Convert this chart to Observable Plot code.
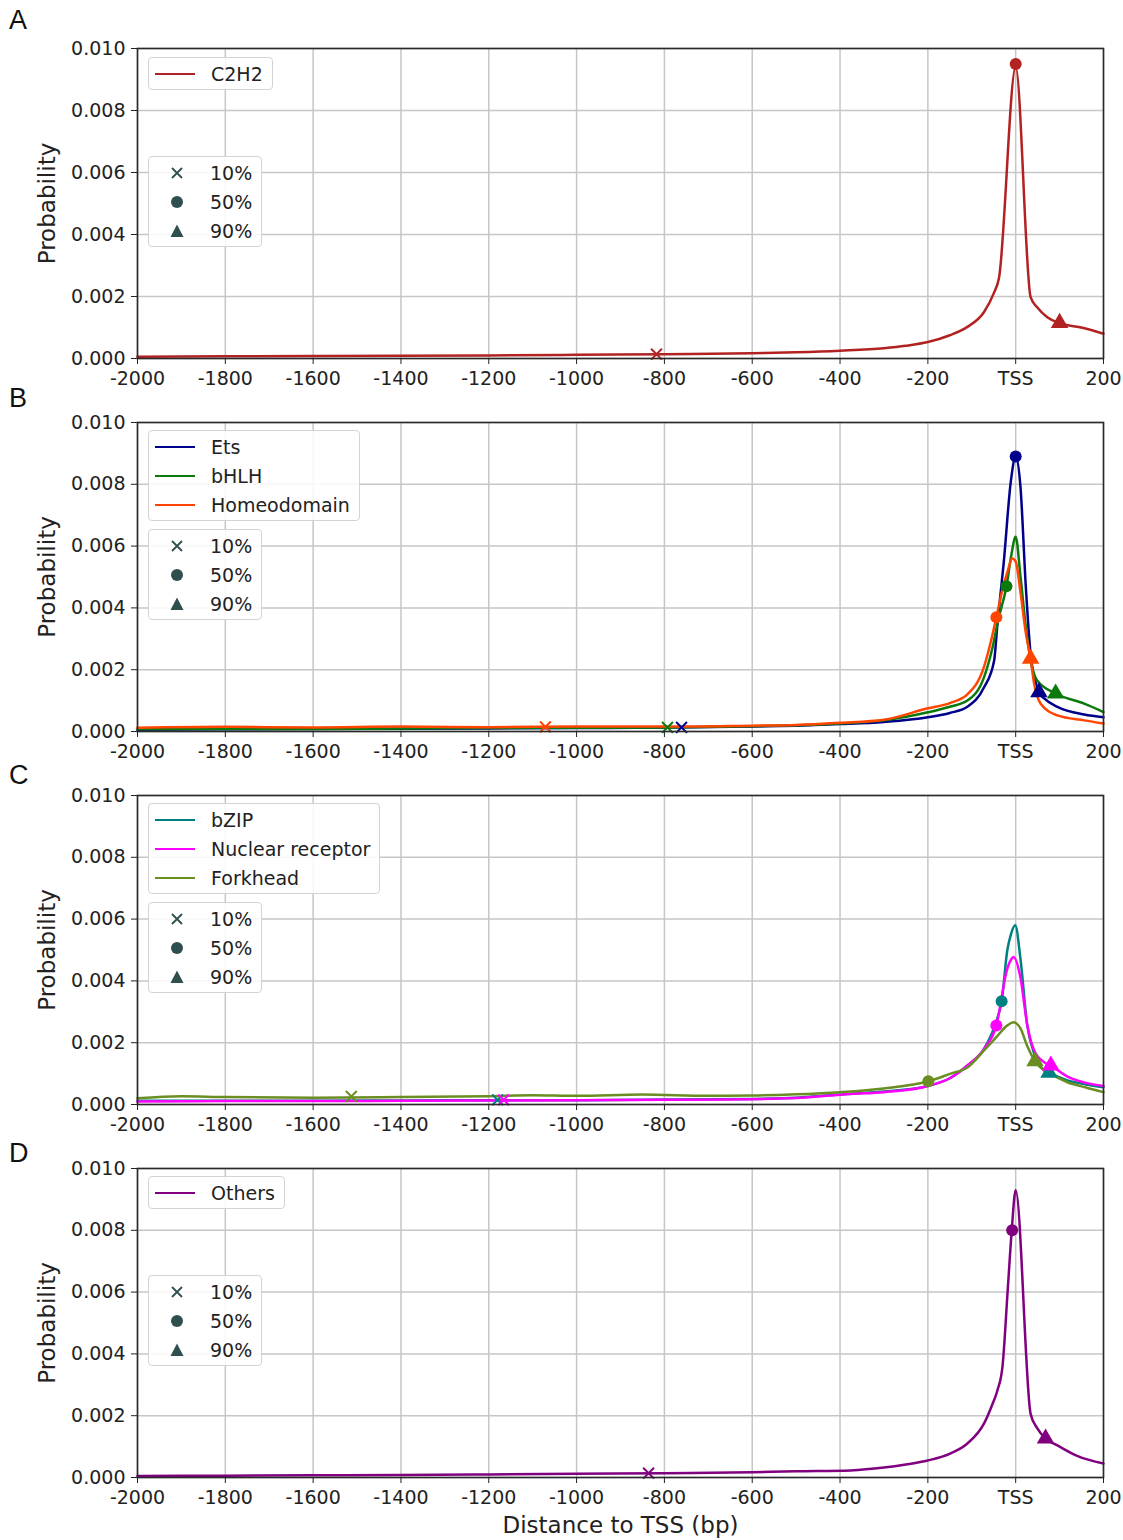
<!DOCTYPE html>
<html>
<head>
<meta charset="utf-8">
<script src="https://cdn.jsdelivr.net/npm/d3@7"></script>
<script src="https://cdn.jsdelivr.net/npm/@observablehq/plot@0.6"></script>
<style>
  body { margin: 0; background: #fff; font-family: "DejaVu Sans", sans-serif; }
  #root { position: relative; width: 1123px; height: 1540px; overflow: hidden; background: #fff; }
  .panel { position: absolute; left: 0; width: 1123px; }
  .panel svg { display: block; }
  .letter { position: absolute; left: 9px; height: 30px; line-height: 30px; font-family: "Liberation Sans", Arial, sans-serif; font-size: 27px; color: #111; }
  .legend { position: absolute; left: 148px; box-sizing: border-box; border: 1px solid #d4d4d4; border-radius: 4px; background: rgba(255,255,255,0.85); padding: 1px 9px 1px 0; font-family: "DejaVu Sans", sans-serif; font-size: 19px; color: #222; }
  .row { display: flex; align-items: center; height: 29px; white-space: nowrap; }
  .sw { margin-left: 6px; width: 40px; height: 0; border-top: 2.6px solid; margin-right: 16px; }
  .mk { margin-left: 20px; margin-right: 25px; width: 16px; height: 16px; display: block; }
</style>
</head>
<body>
<div id="root"></div>
<script>
// ---------- axes ----------
const xTicks = [-2000, -1800, -1600, -1400, -1200, -1000, -800, -600, -400, -200, 0, 200];
const yTicks = [0, 0.002, 0.004, 0.006, 0.008, 0.010];
const pctLabels = ["10%", "50%", "90%"];

// ---------- Panel A : C2H2 ----------
const c2h2X = [-2000,-1800,-1600,-1400,-1200,-1000,-800,-600,-500,-400,-300,-250,-200,-150,-110,-72,-50,-38,0,34,49,72,100,152,200];
const c2h2Y = [0.00006,0.00007,0.00008,0.00009,0.0001,0.00012,0.00014,0.00017,0.0002,0.00025,0.00033,0.00041,0.00053,0.00075,0.00102,0.0015,0.0021,0.0026,0.0094,0.00198,0.00165,0.00133,0.00114,0.00099,0.0008];
const c2h2MarkX = [-818, 0, 100];
const c2h2MarkY = [0.00014, 0.0095, 0.00115];

// ---------- Panel B : Ets, bHLH, Homeodomain ----------
const etsX = [-2000,-1800,-1600,-1400,-1200,-1000,-800,-600,-500,-400,-300,-200,-150,-110,-72,-49,-42,-27,-11,0,11,23,34,49,53,65,95,156,200];
const etsY = [0.00006,0.00007,0.00008,0.00009,0.0001,0.00011,0.00013,0.00016,0.00019,0.00024,0.00031,0.00046,0.0006,0.0008,0.00143,0.0023,0.0034,0.0055,0.0081,0.0089,0.0079,0.0047,0.0025,0.00143,0.00127,0.00107,0.0008,0.00055,0.00046];
const etsMarkX = [-761, 0, 53];
const etsMarkY = [0.00013, 0.0089, 0.00127];

const bhlhX = [-2000,-1800,-1600,-1400,-1200,-1000,-800,-600,-500,-400,-300,-200,-150,-110,-72,-53,-40,-21,-10,0,11,23,34,49,91,156,200];
const bhlhY = [0.00007,0.00008,0.00008,0.0001,0.00011,0.00012,0.00013,0.00017,0.0002,0.00026,0.00036,0.00062,0.0008,0.001,0.00176,0.0027,0.0036,0.0047,0.0057,0.0063,0.005,0.0034,0.0023,0.00165,0.00123,0.0009,0.00063];
const bhlhMarkX = [-793, -21, 91];
const bhlhMarkY = [0.00013, 0.0047, 0.00123];

const homeoX = [-2000,-1800,-1600,-1400,-1200,-1000,-800,-600,-500,-400,-300,-200,-150,-110,-72,-55,-44,-30,-18,-8,0,11,23,34,42,57,95,156,200];
const homeoY = [0.00012,0.00015,0.00013,0.00016,0.00014,0.00016,0.00016,0.00019,0.00021,0.00028,0.00038,0.00075,0.00092,0.0012,0.0021,0.003,0.0037,0.0046,0.0052,0.0056,0.0055,0.0045,0.0032,0.00236,0.00155,0.0009,0.00052,0.00036,0.00026];
const homeoMarkX = [-1071, -44, 34];
const homeoMarkY = [0.00015, 0.0037, 0.00236];

// ---------- Panel C : bZIP, Nuclear receptor, Forkhead ----------
const bzipX = [-2000,-1800,-1600,-1400,-1200,-1000,-800,-600,-500,-376,-300,-200,-150,-110,-72,-44,-32,-19,-11,-1,11,26,42,65,76,118,160,200];
const bzipY = [0.00012,0.00012,0.00012,0.00013,0.00014,0.00014,0.00016,0.00018,0.00022,0.00035,0.00042,0.0006,0.00085,0.00126,0.0018,0.0027,0.00334,0.005,0.0055,0.0058,0.0047,0.0026,0.00165,0.0011,0.00103,0.00078,0.00065,0.00056];
const bzipMarkX = [-1180, -32, 76];
const bzipMarkY = [0.00015, 0.00334, 0.00103];

const nrX = [-2000,-1800,-1600,-1400,-1200,-1000,-800,-600,-500,-376,-300,-200,-150,-110,-72,-44,-19,-10,-5,11,26,42,65,80,118,160,200];
const nrY = [0.0001,0.00011,0.00011,0.00012,0.00013,0.00014,0.00015,0.00017,0.00021,0.00034,0.0004,0.0006,0.00085,0.00126,0.0018,0.00256,0.0044,0.0047,0.00477,0.0041,0.0026,0.00175,0.00137,0.00126,0.0009,0.0007,0.0006];
const nrMarkX = [-1166, -44, 80];
const nrMarkY = [0.00015, 0.00256, 0.00126];

const forkX = [-2000,-1900,-1800,-1600,-1400,-1200,-1100,-1000,-850,-700,-600,-500,-400,-300,-199,-148,-110,-72,-44,-19,-5,11,26,44,80,118,160,200];
const forkY = [0.0002,0.00027,0.00024,0.00022,0.00024,0.00027,0.0003,0.00028,0.00032,0.00028,0.00029,0.00033,0.0004,0.00052,0.00075,0.001,0.0012,0.00175,0.00218,0.00256,0.00266,0.00246,0.0019,0.0014,0.001,0.00072,0.00055,0.0004];
const forkMarkX = [-1513, -199, 44];
const forkMarkY = [0.00026, 0.00075, 0.0014];

// ---------- Panel D : Others ----------
const othersX = [-2000,-1800,-1600,-1400,-1200,-1000,-800,-600,-500,-376,-300,-250,-200,-148,-110,-72,-55,-42,-30,-18,-9,0,34,49,68,95,140,200];
const othersY = [0.00005,0.00006,0.00007,0.00008,0.0001,0.00012,0.00014,0.00017,0.0002,0.00023,0.00032,0.00042,0.00055,0.00078,0.0011,0.00175,0.0023,0.0028,0.0036,0.0061,0.0080,0.0093,0.00206,0.0016,0.00126,0.00104,0.0007,0.00045];
const othersMarkX = [-836, -8, 68];
const othersMarkY = [0.00014, 0.0080, 0.00126];

// ---------- colours ----------
const cC2H2 = "#b22222", cEts = "#00008b", cBHLH = "#0b7a0b", cHomeo = "#ff4500";
const cBZIP = "#008080", cNR = "#ff00ff", cFork = "#6b8e23", cOthers = "#800080";
const markerInk = "#2f4f4f";

const zip = (xs, ys) => xs.map((x, i) => ({x, y: ys[i]}));

const panels = [
  {letter: "A", top: 0, height: 390, mt: 48, mb: 32, letterY: 20, lgShift: 1, series: [
    {name: "C2H2", color: cC2H2, x: c2h2X, y: c2h2Y, mx: c2h2MarkX, my: c2h2MarkY}]},
  {letter: "B", top: 390, height: 373, mt: 32, mb: 32, letterY: 398, lgShift: 0, series: [
    {name: "Ets", color: cEts, x: etsX, y: etsY, mx: etsMarkX, my: etsMarkY},
    {name: "bHLH", color: cBHLH, x: bhlhX, y: bhlhY, mx: bhlhMarkX, my: bhlhMarkY},
    {name: "Homeodomain", color: cHomeo, x: homeoX, y: homeoY, mx: homeoMarkX, my: homeoMarkY}]},
  {letter: "C", top: 763, height: 373, mt: 32, mb: 32, letterY: 775, lgShift: 0, series: [
    {name: "bZIP", color: cBZIP, x: bzipX, y: bzipY, mx: bzipMarkX, my: bzipMarkY},
    {name: "Nuclear receptor", color: cNR, x: nrX, y: nrY, mx: nrMarkX, my: nrMarkY},
    {name: "Forkhead", color: cFork, x: forkX, y: forkY, mx: forkMarkX, my: forkMarkY}]},
  {letter: "D", top: 1136, height: 404, mt: 32, mb: 63, letterY: 1153, lgShift: 0, xLabel: "Distance to TSS (bp)", series: [
    {name: "Others", color: cOthers, x: othersX, y: othersY, mx: othersMarkX, my: othersMarkY}]}
];

const root = document.getElementById("root");
const gridStyle = {stroke: "#c6c6c6", strokeOpacity: 1, strokeWidth: 1.5};
const symbols = ["times", "circle", "triangle"];

function markerSvg(kind) {
  if (kind === "times") return `<svg class="mk" viewBox="0 0 16 16"><path d="M3 3L13 13M13 3L3 13" stroke="${markerInk}" stroke-width="1.8"/></svg>`;
  if (kind === "circle") return `<svg class="mk" viewBox="0 0 16 16"><circle cx="8" cy="8" r="6" fill="${markerInk}"/></svg>`;
  return `<svg class="mk" viewBox="0 0 16 16"><path d="M8 1.5L14.5 14H1.5Z" fill="${markerInk}"/></svg>`;
}

for (const p of panels) {
  const div = document.createElement("div");
  div.className = "panel";
  div.style.top = p.top + "px";
  div.style.height = p.height + "px";

  const marks = [
    Plot.gridX(xTicks, gridStyle),
    Plot.gridY(yTicks, gridStyle),
    ...p.series.map(s => Plot.line(zip(s.x, s.y), {x: "x", y: "y", stroke: s.color, strokeWidth: 2.5, curve: "monotone-x"})),
    ...p.series.flatMap(s => [
      Plot.dot([{x: s.mx[0], y: s.my[0]}], {x: "x", y: "y", symbol: "times", stroke: s.color, strokeWidth: 2, r: 5}),
      Plot.dot([{x: s.mx[1], y: s.my[1]}], {x: "x", y: "y", symbol: "circle", fill: s.color, stroke: "none", r: 6}),
      Plot.dot([{x: s.mx[2], y: s.my[2]}], {x: "x", y: "y", symbol: "triangle", fill: s.color, stroke: "none", r: 6.5})
    ]),
    Plot.frame({stroke: "#2a2a2a", strokeWidth: 1.6}),
    Plot.axisX(xTicks, {tickFormat: d => d === 0 ? "TSS" : String(d), tickSize: 6, tickPadding: 7, fontSize: 19,
      label: p.xLabel ?? null, labelAnchor: "center", labelArrow: "none", labelOffset: 55}),
    Plot.axisY(yTicks, {tickFormat: d3.format(".3f"), tickSize: 6, tickPadding: 6, fontSize: 19,
      label: "Probability", labelAnchor: "center", labelArrow: "none", labelOffset: 99})
  ];

  const chart = Plot.plot({
    width: 1123, height: p.height,
    marginLeft: 137, marginRight: 20, marginTop: p.mt, marginBottom: p.mb,
    x: {domain: [-2000, 200]},
    y: {domain: [0, 0.010]},
    style: {fontFamily: "DejaVu Sans, sans-serif", fontSize: "19px", color: "#222", background: "transparent"},
    marks
  });
  chart.querySelectorAll('g[aria-label$="axis label"]').forEach(g => {
    g.setAttribute("font-size", "23");
    g.querySelectorAll("text").forEach(t => t.setAttribute("font-size", "23"));
  });
  div.appendChild(chart);
  root.appendChild(div);

  // panel letter
  const L = document.createElement("div");
  L.className = "letter";
  L.textContent = p.letter;
  L.style.top = (p.letterY - 15) + "px";
  root.appendChild(L);

  // series legend
  const plotTop = p.top + p.mt;
  const lg1 = document.createElement("div");
  lg1.className = "legend";
  lg1.style.top = (plotTop + 8 + p.lgShift) + "px";
  lg1.innerHTML = p.series.map(s => `<div class="row"><div class="sw" style="border-top-color:${s.color}"></div><span>${s.name}</span></div>`).join("");
  root.appendChild(lg1);

  // percentile legend
  const lg2 = document.createElement("div");
  lg2.className = "legend";
  lg2.style.top = (plotTop + 107 + p.lgShift) + "px";
  lg2.innerHTML = symbols.map((k, i) => `<div class="row">${markerSvg(k)}<span>${pctLabels[i]}</span></div>`).join("");
  root.appendChild(lg2);
}
</script>
</body>
</html>
